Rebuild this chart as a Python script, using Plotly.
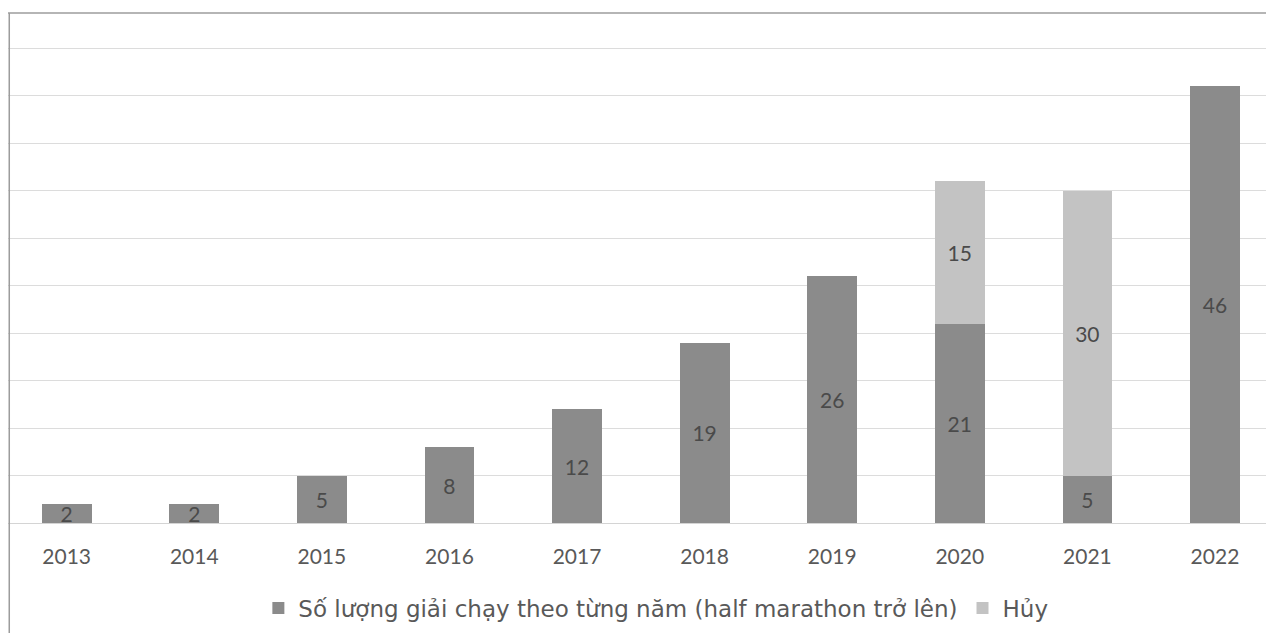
import plotly.graph_objects as go

years = ["2013", "2014", "2015", "2016", "2017", "2018", "2019", "2020", "2021", "2022"]
held = [2, 2, 5, 8, 12, 19, 26, 21, 5, 46]
cancelled = [None, None, None, None, None, None, None, 15, 30, None]
name_held = "Số lượng giải chạy theo từng năm (half marathon trở lên)"
name_cancel = "Hủy"

DARK = "#8b8b8b"
LIGHT = "#c3c3c3"
TXT = "#595959"
LBL_FONT = dict(family="Lato, Carlito, Calibri, sans-serif", size=21, color="#4a4a4a")

fig = go.Figure()
fig.add_trace(go.Bar(
    x=years, y=held, name=name_held, marker=dict(color=DARK, line=dict(width=0)),
    text=[str(v) for v in held], textposition="inside", insidetextanchor="middle",
    constraintext="none", textangle=0, textfont=LBL_FONT,
))
fig.add_trace(go.Bar(
    x=years, y=cancelled, name=name_cancel, marker=dict(color=LIGHT, line=dict(width=0)),
    text=[("" if v is None else str(v)) for v in cancelled], textposition="inside",
    insidetextanchor="middle", constraintext="none", textangle=0, textfont=LBL_FONT,
))

fig.update_layout(
    width=1266, height=633,
    barmode="stack", bargap=0.61,
    paper_bgcolor="white", plot_bgcolor="white",
    margin=dict(l=8, r=0, t=13, b=110),
    showlegend=True,
    legend=dict(
        orientation="h", x=0.515, xanchor="center", y=-0.167, yanchor="middle",
        font=dict(family="DejaVu Sans, Liberation Sans, Arial, sans-serif", size=23, color=TXT),
        itemwidth=30, traceorder="normal",
    ),
    xaxis=dict(
        type="category", range=[-0.46, 9.40], showgrid=False, showline=False,
        ticks="", ticklabelstandoff=19,
        tickfont=dict(family="Lato, Carlito, Calibri, sans-serif", size=21, color=TXT),
    ),
    yaxis=dict(
        range=[0, 53.7], dtick=5, showticklabels=False, showgrid=True,
        gridcolor="#dcdcdc", gridwidth=1, zeroline=True, zerolinecolor="#d4d4d4",
        zerolinewidth=1, showline=False,
    ),
    shapes=[
        dict(type="line", xref="paper", yref="paper", x0=0.001, x1=0.001, y0=-0.3, y1=1,
             line=dict(color="#9c9c9c", width=1.5)),
        dict(type="line", xref="paper", yref="paper", x0=0, x1=1.05, y0=1, y1=1,
             line=dict(color="#9c9c9c", width=1.5)),
    ],
)

fig.write_html(
    "out.html",
    config={"displayModeBar": False},
    post_script="document.body.style.margin='0';document.body.style.overflow='hidden';",
)
